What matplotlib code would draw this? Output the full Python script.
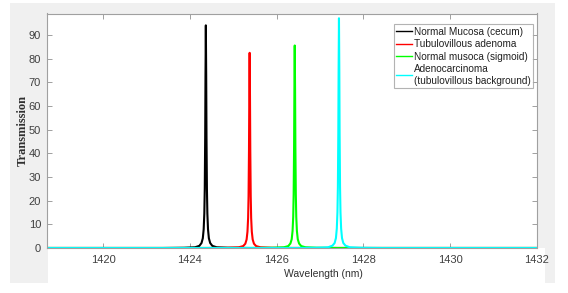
"""Transmission spectra of the four tissue sensors"""

import matplotlib
matplotlib.use('Agg')
import matplotlib.pyplot as plt
from matplotlib.patches import Rectangle

# Legend labels and line colours
labels = [
    'Normal Mucosa (cecum)',
    'Tubulovillous adenoma',
    'Normal musoca (sigmoid)',
    'Adenocarcinoma\n(tubulovillous background)',
]
colors = ['#000000', '#ff0000', '#00ff00', '#00ffff']

# Resonance wavelengths (nm)
peak_centers = [1424.37, 1425.38, 1426.42, 1427.44]

# Offsets (nm) from each resonance at which the curves were read
offsets = [-1.0, -0.5, -0.25, -0.15, -0.10, -0.07, -0.05, -0.035, -0.025, -0.015, -0.008, 0.0,
           0.008, 0.015, 0.025, 0.035, 0.05, 0.07, 0.10, 0.15, 0.25, 0.5, 1.0]

# Transmission (%) at those offsets
normal_cecum = [0.0, 0.1, 0.3, 0.9, 2.1, 4.1, 7.9, 14.6, 24.9, 47.0, 73.0, 94.0,
                73.0, 47.0, 24.9, 14.6, 7.9, 4.1, 2.1, 0.9, 0.3, 0.1, 0.0]
tubulovillous = [0.0, 0.1, 0.3, 0.8, 1.8, 3.6, 6.9, 12.7, 21.8, 41.2, 64.0, 82.4,
                 64.0, 41.2, 21.8, 12.7, 6.9, 3.6, 1.8, 0.8, 0.3, 0.1, 0.0]
normal_sigmoid = [0.0, 0.1, 0.3, 0.8, 1.9, 3.7, 7.2, 13.2, 22.6, 42.8, 66.5, 85.5,
                  66.5, 42.8, 22.6, 13.2, 7.2, 3.7, 1.9, 0.8, 0.3, 0.1, 0.0]
adenocarcinoma = [0.0, 0.1, 0.3, 1.0, 2.1, 4.2, 8.2, 15.1, 25.7, 48.5, 75.4, 97.0,
                  75.4, 48.5, 25.7, 15.1, 8.2, 4.2, 2.1, 1.0, 0.3, 0.1, 0.0]
series = [normal_cecum, tubulovillous, normal_sigmoid, adenocarcinoma]

x_min, x_max = 1420.7, 1432.0
# ticks are evenly spaced every 2 nm; the first one is labelled 1420 in the original
x_ticks = [1422, 1424, 1426, 1428, 1430, 1432]
x_tick_labels = ['1420', '1424', '1426', '1428', '1430', '1432']
y_ticks = [0, 10, 20, 30, 40, 50, 60, 70, 80, 90]

plt.rcParams['font.family'] = ['Liberation Sans', 'DejaVu Sans']

fig = plt.figure(figsize=(5.68, 2.93), dpi=100)
fig.patch.set_facecolor('white')

# MATLAB-style grey figure panel with a white strip under the axes
fig.patches.append(Rectangle((10 / 568, 1 - 283 / 293), 545 / 568, 280 / 293,
                             transform=fig.transFigure, facecolor='#f0f0f0',
                             edgecolor='none', zorder=-2))
fig.patches.append(Rectangle((48 / 568, 1 - 283 / 293), 497 / 568, 35 / 293,
                             transform=fig.transFigure, facecolor='white',
                             edgecolor='none', zorder=-1))

ax = fig.add_axes([46.7 / 568, 1 - 248 / 293, 490 / 568, 234.5 / 293])
ax.set_facecolor('white')

for center, values, color, label in zip(peak_centers, series, colors, labels):
    wl = [x_min] + [center + d for d in offsets] + [x_max]
    tr = [0.0] + values + [0.0]
    ax.plot(wl, tr, color=color, lw=1.5, label=label)

ax.set_xlim(x_min, x_max)
ax.set_ylim(0, 99)
ax.set_xticks(x_ticks)
ax.set_xticklabels(x_tick_labels)
ax.set_yticks(y_ticks)

for side in ['top', 'right', 'bottom', 'left']:
    ax.spines[side].set_color('#a0a0a0')
    ax.spines[side].set_linewidth(0.8)

ax.tick_params(direction='in', top=True, right=True, length=3.5, width=0.6,
               color='#909090', labelcolor='#404040', labelsize=8)
ax.tick_params(axis='x', pad=5)
ax.tick_params(axis='y', pad=4)

# axis titles placed in figure pixels to match the original layout
fig.text(23 / 568, 1 - 131 / 293, 'Transmission', rotation=90, ha='center', va='center',
         family=['Liberation Serif', 'DejaVu Serif'], fontweight='bold', fontsize=9,
         color='#303030')
fig.text(323 / 568, 1 - 274 / 293, 'Wavelength (nm)', ha='center', va='center',
         fontsize=7.5, color='#303030')

leg = ax.legend(loc='upper right', bbox_to_anchor=(0.9925, 0.955), borderaxespad=0,
                fontsize=7.2, frameon=True, fancybox=False, handlelength=1.6,
                handletextpad=0.15, borderpad=0.25, labelspacing=0.25)
leg.get_frame().set_edgecolor('#a0a0a0')
leg.get_frame().set_linewidth(0.8)
for line in leg.get_lines():
    line.set_linewidth(1.0)
for text in leg.get_texts():
    text.set_color('#202020')

fig.savefig('out.png', dpi=100, facecolor='white')
plt.close(fig)
